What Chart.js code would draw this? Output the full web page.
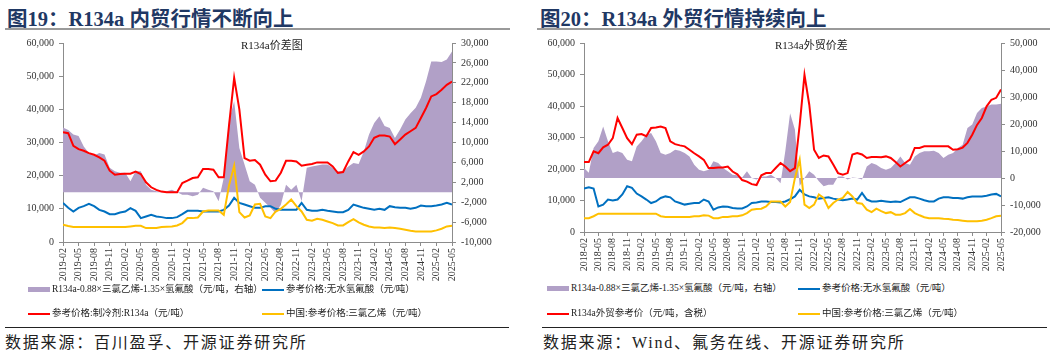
<!DOCTYPE html>
<html lang="zh-CN">
<head>
<meta charset="utf-8">
<script src="https://cdn.jsdelivr.net/npm/chart.js@4.4.1/dist/chart.umd.min.js"></script>
<style>
  html, body { margin: 0; padding: 0; background: #fff; }
  body {
    position: relative; width: 1057px; height: 353px; overflow: hidden;
    font-family: "Liberation Serif", "Noto Sans CJK SC", serif; color: #222;
  }
  .fig-title {
    position: absolute; top: 2px; font-size: 20.5px; font-weight: bold;
    color: #1f3864; white-space: nowrap;
  }
  .rule-top { position: absolute; top: 28px; height: 2px; background: #9a9a9a; }
  .rule-bot { position: absolute; top: 327px; height: 1px; background: #222; }
  .source {
    position: absolute; top: 329px; font-size: 16px; letter-spacing: 1.8px;
    white-space: nowrap;
  }
  canvas { position: absolute; }
  .inner-title { position: absolute; top: 36px; font-size: 11px; white-space: nowrap; color: #222; }
  .legend { position: absolute; font-size: 9.5px; white-space: nowrap; line-height: 12px; color: #222; }
  .legend i { display: inline-block; width: 22px; vertical-align: middle; margin-right: 2px; }
</style>
</head>
<body>

<div class="fig-title" style="left:7px">图19：R134a 内贸行情不断向上</div>
<div class="fig-title" style="left:540px">图20：R134a 外贸行情持续向上</div>
<div class="rule-top" style="left:5px;width:505px"></div>
<div class="rule-top" style="left:537px;width:513px"></div>

<canvas id="left" width="525" height="255" style="left:0;top:30px"></canvas>
<canvas id="right" width="527" height="250" style="left:530px;top:30px"></canvas>

<div class="inner-title" style="left:241px">R134a价差图</div>
<div class="inner-title" style="left:775px">R134a外贸价差</div>

<div class="legend" style="left:28px;top:283px"><i style="height:5px;background:#b1a0c7"></i>R134a-0.88×三氯乙烯-1.35×氢氟酸（元/吨，右轴）</div>
<div class="legend" style="left:262px;top:283px"><i style="height:2px;background:#0070c0"></i>参考价格:无水氢氟酸（元/吨）</div>
<div class="legend" style="left:28px;top:307px"><i style="height:2px;background:#ff0000"></i>参考价格:制冷剂:R134a（元/吨）</div>
<div class="legend" style="left:262px;top:307px"><i style="height:2px;background:#ffc000"></i>中国:参考价格:三氯乙烯（元/吨）</div>

<div class="legend" style="left:547px;top:282px"><i style="height:5px;background:#b1a0c7"></i>R134a-0.88×三氯乙烯-1.35×氢氟酸（元/吨，右轴）</div>
<div class="legend" style="left:798px;top:282px"><i style="height:2px;background:#0070c0"></i>参考价格:无水氢氟酸（元/吨）</div>
<div class="legend" style="left:547px;top:307px"><i style="height:2px;background:#ff0000"></i>R134a外贸参考价（元/吨，含税）</div>
<div class="legend" style="left:798px;top:307px"><i style="height:2px;background:#ffc000"></i>中国:参考价格:三氯乙烯（元/吨）</div>

<div class="rule-bot" style="left:5px;width:504px"></div>
<div class="rule-bot" style="left:542px;width:505px"></div>
<div class="source" style="left:5px">数据来源：百川盈孚、开源证券研究所</div>
<div class="source" style="left:543px">数据来源：Wind、氟务在线、开源证券研究所</div>

<script>
// values in 千元/吨, one point per month

// 图19: 2019-02 .. 2025-05
const leftTicks = [
  '2019-02', '2019-05', '2019-08', '2019-11', '2020-02', '2020-05', '2020-08',
  '2020-11', '2021-02', '2021-05', '2021-08', '2021-11', '2022-02', '2022-05',
  '2022-08', '2022-11', '2023-02', '2023-05', '2023-08', '2023-11', '2024-02',
  '2024-05', '2024-08', '2024-11', '2025-02', '2025-05',
];
const leftR134a = [
  33.1, 32.8, 29, 28, 27.5, 26.8, 26.3, 25.5, 24.5, 21.5, 20.3, 20.5, 20.6,
  20.6, 21.2, 20.5, 18, 16.5, 15.7, 15.2, 15, 15, 15, 17.8, 18.5, 19.3, 19.5,
  22, 22, 21.8, 19.5, 19.5, 35, 49.5, 40, 25.3, 24.5, 24.7, 23.3, 20.3, 18.3,
  18.5, 20.9, 24.5, 24.5, 24.3, 23, 23.3, 23.5, 24, 24, 24, 22.8, 20.8, 21.1,
  24.3, 27.1, 26.3, 27.3, 28.8, 31.4, 32.1, 32.1, 31.8, 29.5, 30.9, 32.4,
  33.4, 34.4, 37.4, 40.4, 43.9, 44.6, 45.9, 47.4, 48.4,
];
const leftSpread = [
  13, 12.5, 11.6, 11.3, 9.2, 7.9, 7.4, 7.9, 7.6, 4.9, 4.2, 3.9, 3.9, 2.2, 4.2,
  4.2, 1.5, 0.5, 0.2, 0.1, 0.2, 0.5, 0, -0.5, -0.5, -0.8, -0.5, 0.9, 0.5, 0.2,
  -1.8, 2.9, 14.3, 18.3, 8.9, 5.6, 2.2, 1.5, -1.1, -2.1, -3.1, -4.2, -2.5, 1.5,
  0.5, 1.5, -1.8, 4.9, 5.2, 5.4, 5.6, 5.6, 4.9, 4.2, 4.2, 5.2, 5.9, 5.7, 8.2,
  11.6, 13.9, 15.3, 13.3, 12.9, 10.9, 12.6, 14.6, 15.9, 17, 19, 22.3, 26.3,
  26.3, 26.2, 26.7, 28.3,
];
const leftHF = [
  11.8, 10.3, 9.2, 10.3, 10.8, 11.5, 10.8, 9.7, 9.2, 8.4, 8.4, 8.9, 9.2, 10.2,
  9.4, 7.2, 7.7, 8.2, 7.7, 7.5, 7.2, 7.2, 7.5, 8.4, 9.4, 9.4, 9.4, 9.2, 9.2,
  9.2, 9.2, 9.7, 11, 13.3, 11.8, 11.3, 10.8, 10.3, 10.3, 10.8, 10.8, 10, 9.7,
  9.7, 9.7, 9.7, 11.8, 9.7, 9.4, 9.4, 9.7, 9.4, 9.2, 9, 9, 9.7, 11.3, 10.8,
  10.3, 10, 9.7, 10, 9.7, 10.8, 10.5, 10.3, 10.3, 10, 10.3, 11, 10.8, 10.8,
  11, 11.3, 11.8, 11.3,
];
const leftTCE = [
  5.2, 4.8, 4.5, 4.5, 4.5, 4.5, 4.5, 4.5, 4.5, 4.5, 4.5, 4.5, 4.5, 4.7, 4.9,
  4.9, 4.2, 4.2, 4.2, 4.5, 4.6, 4.7, 5, 5.7, 7.2, 7.2, 7.4, 9.2, 9.5, 9.5, 9.5,
  8.2, 17, 23, 9, 7.4, 8, 11.3, 11.5, 7.7, 7.2, 9.2, 10, 11.3, 12.8, 10.8, 9.2,
  6.7, 6.4, 7, 6.7, 6.2, 5.7, 5, 5, 6, 6.9, 5.9, 5.2, 4.7, 4.4, 4.4, 4.2, 4.4,
  4.2, 4, 3.7, 3.4, 3.2, 3.2, 3.2, 3.2, 3.5, 4, 4.7, 4.9,
];

// 图20: 2018-02 .. 2025-05
const rightTicks = [
  '2018-02', '2018-05', '2018-08', '2018-11', '2019-02', '2019-05', '2019-08',
  '2019-11', '2020-02', '2020-05', '2020-08', '2020-11', '2021-02', '2021-05',
  '2021-08', '2021-11', '2022-02', '2022-05', '2022-08', '2022-11', '2023-02',
  '2023-05', '2023-08', '2023-11', '2024-02', '2024-05', '2024-08', '2024-11',
  '2025-02', '2025-05',
];
const rightExport = [
  22.2, 22.2, 25.6, 25, 26.9, 27.7, 29.8, 36.2, 33, 29.8, 27.9, 30.9, 31.1,
  30.4, 33, 33.2, 33.5, 33, 28.8, 27.9, 27.5, 27.2, 26.1, 25, 24, 22.9, 20.3,
  20.3, 20.5, 20.5, 20.8, 19.2, 18.3, 16.5, 16, 15.2, 14.9, 18, 18.7, 18.7,
  20.3, 21.9, 20.8, 19.3, 20.3, 34, 49.9, 40.4, 26.1, 23.5, 24.3, 24, 21.4,
  18.7, 18.2, 18.7, 24.6, 25.1, 24.6, 23.5, 23.8, 23.8, 23.7, 24, 23.5, 22.2,
  20.8, 21.9, 23, 26.7, 26.7, 27.2, 27.2, 27.2, 27.2, 27.2, 27.2, 26.1, 26.3,
  26.8, 28.3, 30.9, 34, 36.2, 39.9, 42, 42.6, 45.2,
];
const rightSpread = [
  3.7, 1.9, 11.1, 13.6, 19.1, 13.6, 9.3, 9.9, 9.3, 6.8, 6.2, 11.7, 13.6, 16,
  16.7, 13.6, 9.3, 8.6, 9.3, 10.5, 10.1, 9.3, 8, 4.9, 3.1, 2.5, 3.1, 6.2, 5.6,
  3.7, 2.5, 1.2, 1, 0.2, 2.5, 0, -0.6, 0.6, 0.6, 1.2, 0, -1.9, 10, 24, 18, -3,
  0, 2.5, 1.2, -1.2, -3.1, -2.5, -2.5, 0.6, 0.6, -0.6, 0.2, 0, -0.6, 4.3, 5.6,
  4.9, 3.7, 3.1, 3.7, 5.6, 8, 5.6, 4.9, 8, 9.3, 9.9, 9.9, 10.1, 9.3, 7.4, 8.6,
  9.3, 11.1, 12.3, 18.5, 19.8, 24.1, 25.9, 26.5, 27.2, 27.2, 27.5,
];
const rightHF = [
  13.8, 14.2, 13.8, 8.1, 8.7, 10.3, 10, 10.3, 11.9, 14.5, 14, 12.2, 11.3, 10.3,
  9.2, 9.7, 10.8, 11.3, 11, 9.7, 9.2, 8.7, 9, 9.2, 9.2, 10.3, 9.7, 7.1, 7.8,
  8.1, 8, 7.6, 7.5, 7.5, 8.1, 9.2, 9.4, 9.7, 9.7, 9.5, 9.5, 9.4, 9.7, 10.4,
  11.3, 13.4, 11.9, 11.3, 11, 10.6, 10.8, 11, 10.6, 10.3, 10.1, 10.3, 10.6,
  10.3, 12.4, 10.3, 9.7, 9.7, 9.9, 9.7, 9.5, 9.7, 9.5, 10.3, 11, 11, 10.6,
  10.1, 9.7, 9.7, 10.6, 11, 11, 10.8, 10.8, 10.6, 11, 11.3, 11.3, 11.3, 11.5,
  11.9, 12.1, 11.3,
];
const rightTCE = [
  4.4, 4.4, 5, 5.8, 5.8, 5.8, 5.8, 5.8, 5.8, 5.8, 5.8, 5.8, 5.8, 5.8, 5.8, 5.8,
  5, 4.8, 4.8, 4.8, 4.8, 4.8, 4.8, 5, 5, 5.3, 5.2, 4.4, 4.4, 4.8, 4.8, 5, 5,
  5.3, 6, 7.1, 7.3, 7.4, 8.1, 9.7, 9.7, 9.7, 8.1, 9.5, 17.1, 23, 8.7, 7.6, 8.7,
  11.9, 10.8, 7.6, 9.2, 10.3, 10.8, 12.7, 11.3, 9.2, 9, 7.1, 6.3, 7.4, 6.6, 6,
  6.3, 5.5, 5.5, 6, 7.3, 6, 5.3, 4.7, 4.4, 4.4, 4.4, 4.2, 4.1, 3.9, 3.8, 3.6,
  3.4, 3.4, 3.4, 3.6, 3.9, 4.4, 5, 5.2,
];

const axisColor = '#8c8c8c';
const textColor = '#333';
const tickFont = { family: '"Liberation Serif", "Times New Roman", serif', size: 10 };

const fmt = (v) => (v * 1000).toLocaleString('en-US');

const buildChart = (el, o) => {
  const idx = o.red.map((_, i) => i);
  const lineDs = (data, color, order) => ({
    data: data,
    borderColor: color,
    borderWidth: 2,
    pointRadius: 0,
    fill: false,
    yAxisID: 'y',
    order: order,
  });

  return new Chart(el, {
    type: 'line',
    data: {
      labels: idx,
      datasets: [
        {
          data: o.spread,
          yAxisID: 'yR',
          fill: 'origin',
          backgroundColor: '#b1a0c7',
          borderWidth: 0,
          pointRadius: 0,
          order: 9,
        },
        lineDs(o.hf, '#0070c0', 4),
        lineDs(o.tce, '#ffc000', 3),
        lineDs(o.red, '#ff0000', 1),
      ],
    },
    options: {
      responsive: false,
      animation: false,
      layout: { padding: { top: 13, left: 0, right: 0, bottom: 0 } },
      plugins: { legend: { display: false }, tooltip: { enabled: false } },
      elements: { line: { tension: 0 } },
      scales: {
        x: {
          type: 'linear',
          min: 0,
          max: idx.length - 1,
          ticks: {
            stepSize: 3,
            autoSkip: false,
            minRotation: 90,
            maxRotation: 90,
            padding: 2,
            color: textColor,
            font: tickFont,
            callback: (v) => o.ticks[v / 3] || '',
          },
          grid: { drawOnChartArea: false, tickLength: 4, color: axisColor },
          border: { color: axisColor },
          afterFit: (s) => { s.height = o.xH; },
        },
        y: {
          position: 'left',
          min: 0,
          max: 60,
          ticks: { stepSize: 10, padding: 5, color: textColor, font: tickFont, callback: fmt },
          grid: { drawOnChartArea: false, tickLength: 4, color: axisColor },
          border: { color: axisColor },
          afterFit: (s) => { s.width = o.yLW; },
        },
        yR: {
          position: 'right',
          min: o.rMin,
          max: o.rMax,
          ticks: { stepSize: o.rStep, padding: 5, color: textColor, font: tickFont, callback: fmt },
          grid: { drawOnChartArea: false, tickLength: 4, color: axisColor },
          border: { color: axisColor },
          afterFit: (s) => { s.width = o.yRW; },
        },
      },
    },
  });
};

buildChart(document.getElementById('left'), {
  ticks: leftTicks, red: leftR134a, spread: leftSpread, hf: leftHF, tce: leftTCE,
  rMin: -10, rMax: 30, rStep: 4, yLW: 63, yRW: 73, xH: 43,
});

buildChart(document.getElementById('right'), {
  ticks: rightTicks, red: rightExport, spread: rightSpread, hf: rightHF, tce: rightTCE,
  rMin: -20, rMax: 50, rStep: 10, yLW: 54, yRW: 56, xH: 48,
});
</script>
</body>
</html>
